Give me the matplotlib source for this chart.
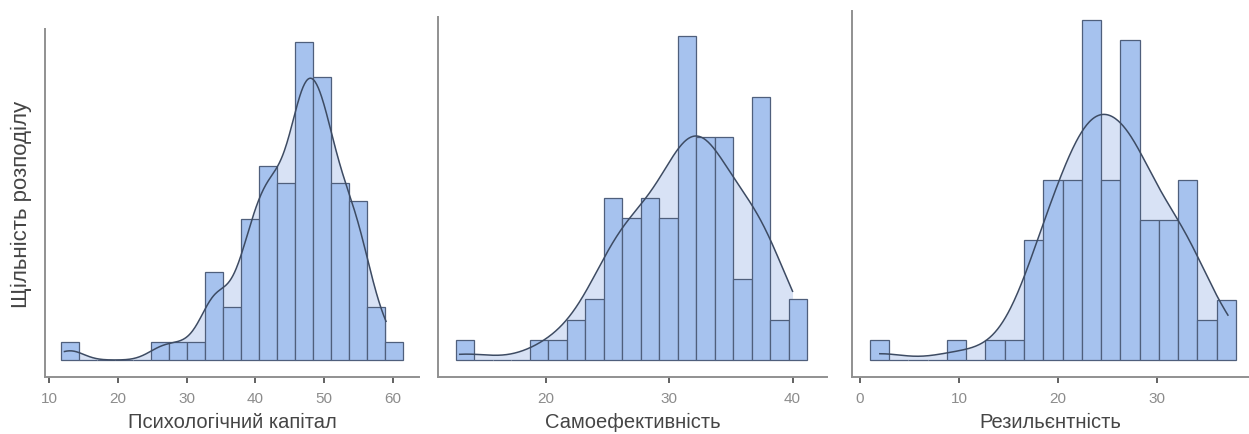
import numpy as np
import matplotlib
matplotlib.use("Agg")
import matplotlib.pyplot as plt

plt.rcParams['font.family'] = ['Liberation Sans', 'DejaVu Sans']

# ---- data (counts per bin, 19 equal bins) ----
labels = ["Психологічний капітал", "Самоефективність", "Резильєнтність"]
ylabel = "Щільність розподілу"

bin_range_1 = [11.7, 61.4]
counts_1 = [1, 0, 0, 0, 0, 1, 1, 1, 5, 3, 8, 11, 10, 18, 16, 10, 9, 3, 1]

bin_range_2 = [12.7, 41.2]
counts_2 = [1, 0, 0, 0, 1, 1, 2, 3, 8, 7, 8, 7, 16, 11, 11, 4, 13, 2, 3]

bin_range_3 = [1.0, 38.0]
counts_3 = [1, 0, 0, 0, 1, 0, 1, 1, 6, 9, 9, 17, 9, 16, 7, 7, 9, 2, 3]

kde_span_1 = [12.2, 59.0]
kde_span_2 = [13.0, 40.0]
kde_span_3 = [2.0, 37.2]

xticks_1 = [10, 20, 30, 40, 50, 60]
xticks_2 = [20, 30, 40]
xticks_3 = [0, 10, 20, 30]

# ---- layout / style ----
W, H = 1249, 435
bandwidths = [2.0, 2.1, 2.5]
panels = [
    # left px, right px, top px, xlim, ylim
    dict(l=45, r=419, t=30, xlim=(9.37, 63.8), ylim=(-0.96, 18.73)),
    dict(l=438, r=826.7, t=18, xlim=(11.24, 42.77), ylim=(-0.84, 16.95)),
    dict(l=852, r=1249, t=12, xlim=(-0.81, 39.33), ylim=(-0.85, 17.45)),
]
bottom_px = 378

bar_color = "#a6c2ee"
kde_fill = "#d8e2f5"
edge_color = "#4f5f7c"
line_color = "#3d4b63"
spine_color = "#909090"

fig = plt.figure(figsize=(W / 100, H / 100), dpi=100)

data = [
    (bin_range_1, counts_1, kde_span_1, xticks_1),
    (bin_range_2, counts_2, kde_span_2, xticks_2),
    (bin_range_3, counts_3, kde_span_3, xticks_3),
]

for i, (p, (rng, counts, span, ticks)) in enumerate(zip(panels, data)):
    ax = fig.add_axes([p['l'] / W, (H - bottom_px) / H,
                       (p['r'] - p['l']) / W, (bottom_px - p['t']) / H])
    counts = np.asarray(counts, float)
    edges = np.linspace(rng[0], rng[1], len(counts) + 1)
    width = edges[1] - edges[0]
    centers = (edges[:-1] + edges[1:]) / 2

    # KDE (weighted gaussian on bin centres), scaled to counts
    bw = bandwidths[i]
    xs = np.linspace(span[0], span[1], 400)
    dens = (counts[None, :] * np.exp(-0.5 * ((xs[:, None] - centers[None, :]) / bw) ** 2)).sum(1)
    dens /= (counts.sum() * bw * np.sqrt(2 * np.pi))
    ys = dens * counts.sum() * width

    ax.fill_between(xs, 0, ys, color=kde_fill, lw=0, zorder=1)
    ax.bar(edges[:-1], counts, width=width, align='edge', color=bar_color,
           edgecolor=edge_color, linewidth=0.9, zorder=2)
    ax.plot(xs, ys, color=line_color, lw=1.1, zorder=3)

    ax.set_xlim(*p['xlim'])
    ax.set_ylim(*p['ylim'])
    for s in ['top', 'right']:
        ax.spines[s].set_visible(False)
    for s in ['left', 'bottom']:
        ax.spines[s].set_color(spine_color)
        ax.spines[s].set_linewidth(1.4)
    ax.set_yticks([])
    ax.set_xticks(ticks)
    ax.tick_params(axis='x', length=4, width=1.3, color="#555555",
                   labelsize=11, labelcolor="#8c8c8c", pad=6)
    ax.set_xlabel(labels[i], fontsize=14.5, color="#454545", labelpad=5)
    if i == 0:
        ax.set_ylabel(ylabel, fontsize=16, color="#454545", labelpad=9)
    ax.patch.set_alpha(0)

fig.savefig("out.png", dpi=100)
